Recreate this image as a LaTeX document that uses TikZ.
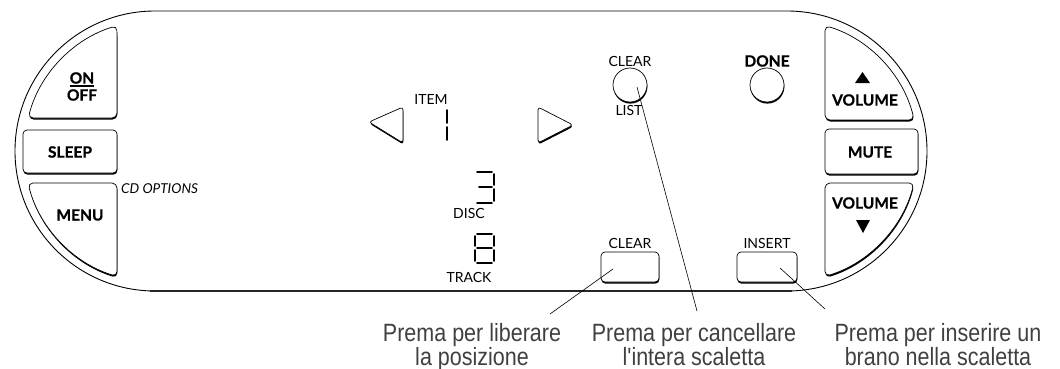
\documentclass[tikz,border=0pt]{standalone}
\usepackage{fontspec}
\setmainfont{Lato}[BoldFeatures={FakeBold=0.8}]
\newfontfamily\capfont[FakeStretch=0.86]{Liberation Sans}
\tikzset{
  btn/.style={draw=black, line width=0.7pt, fill=white},
  lbl/.style={font=\fontsize{14}{16}\selectfont, inner sep=0},
  blbl/.style={font=\bfseries\fontsize{15.5}{17}\selectfont, inner sep=0},
  captxt/.style={font=\capfont\fontsize{25}{23.5}\selectfont, align=center, text=black!75, inner sep=0, anchor=north},
  lead/.style={line width=0.6pt},
  seg/.style={line width=1.7pt, line cap=round},
}
\newcommand\shbtn[2][]{\fill[black,shift={(0.4,1.6)},#1] #2; \filldraw[btn,#1] #2;}
\begin{document}
\begin{tikzpicture}[x=1pt,y=-1pt]
\useasboundingbox (0,0) rectangle (1060,369);
% outer outline
\draw[line width=0.9pt] (155,11) -- (787,11) arc[start angle=-90,end angle=90,radius=140]
  -- (155,291) arc[start angle=90,end angle=270,radius=140] -- cycle;
\draw[line width=1.8pt, black!85] (150,291) -- (792,291);
% left buttons
\shbtn[rounded corners=5]{(117,118) -- (28.2,118) arc[start angle=194.6,end angle=253.1,radius=131] -- cycle}
\shbtn[rounded corners=4]{(23,130) rectangle (117,173)}
\shbtn[rounded corners=5]{(117,183) -- (28,183) arc[start angle=165.9,end angle=106.9,radius=131] -- cycle}
% right buttons
\shbtn[rounded corners=5]{(825,120) -- (825,25.6) arc[start angle=-73.1,end angle=-13.7,radius=131] -- cycle}
\shbtn[rounded corners=4]{(825,129) rectangle (918,174)}
\shbtn[rounded corners=5]{(825,183) -- (825,276.4) arc[start angle=73.1,end angle=14.1,radius=131] -- cycle}
% labels left
\node[blbl] (on) at (82,78) {ON};
\node[blbl] (off) at (82,95) {OFF};
\draw[line width=1.2pt] ([yshift=-2pt]on.south west) -- ([yshift=-2pt]on.south east);
\node[blbl] (sleep) at (70,152) {SLEEP};
\node[blbl] (menu) at (80,215) {MENU};
\node[font=\itshape\fontsize{13.6}{15}\selectfont, inner sep=0, anchor=west] (cdopt) at (121,189) {CD OPTIONS};
% labels right
\fill (855,83) -- (870,83) -- (862.5,72) -- cycle;
\node[blbl] (vup) at (865,100) {VOLUME};
\node[blbl] (mute) at (870,152) {MUTE};
\node[blbl] (vdn) at (865,203) {VOLUME};
\fill (856,220) -- (870,220) -- (863,233) -- cycle;
% display triangles
\shbtn[rounded corners=3]{(369,122) -- (403,107) -- (403,143) -- cycle}
\shbtn[rounded corners=3]{(538,107) -- (573,125) -- (538,143) -- cycle}
\node[lbl] (item) at (431,99) {ITEM};
% digit 1
\draw[seg] (447,110) -- (447,123);
\draw[seg] (447,127) -- (447,140);
% digit 3
\draw[seg] (477,172) -- (492,172);
\draw[seg] (494,174) -- (494,185);
\draw[seg] (479,187) -- (492,187);
\draw[seg] (494,189) -- (494,201);
\draw[seg] (477,203) -- (492,203);
\node[lbl] (disc) at (469,213) {DISC};
% digit 8
\draw[seg] (477,234) -- (492,234);
\draw[seg] (475,236) -- (475,246);
\draw[seg] (494,236) -- (494,246);
\draw[seg] (477,248) -- (492,248);
\draw[seg] (475,250) -- (475,261);
\draw[seg] (494,250) -- (494,261);
\draw[seg] (477,263) -- (492,263);
\node[lbl] (track) at (469,277) {TRACK};
% circles
\fill[black] (630.4,86.6) circle[radius=17];
\filldraw[btn] (630,85) circle[radius=17];
\coordinate (clc) at (630,85);
\node[lbl] (clt) at (630,61) {CLEAR};
\node[lbl] (list) at (629,110) {LIST};
\fill[black] (767.4,86.6) circle[radius=17];
\filldraw[btn] (767,85) circle[radius=17];
\node[blbl] (done) at (767,61) {DONE};
% bottom buttons
\shbtn[rounded corners=4]{(601,252) rectangle (659,282)}
\node[lbl] (clr) at (630,243) {CLEAR};
\shbtn[rounded corners=4]{(737,252) rectangle (797,282)}
\node[lbl] (ins) at (767,243) {INSERT};
% captions
\node[captxt] (c1) at (472,323.5) {Prema per liberare\\la posizione};
\node[captxt] (c2) at (694,323.5) {Prema per cancellare\\l'intera scaletta};
\node[captxt] (c3) at (938,323.5) {Prema per inserire un\\brano nella scaletta};
% leaders
\coordinate (p1) at (613,269); \coordinate (q1) at (550,314);
\coordinate (p2) at (637,87);  \coordinate (q2) at (697,311);
\coordinate (p3) at (780,268); \coordinate (q3) at (825,309);
\draw[lead] (p1) -- (q1);
\draw[lead] (p2) -- (q2);
\draw[lead] (p3) -- (q3);
\end{tikzpicture}
\end{document}
